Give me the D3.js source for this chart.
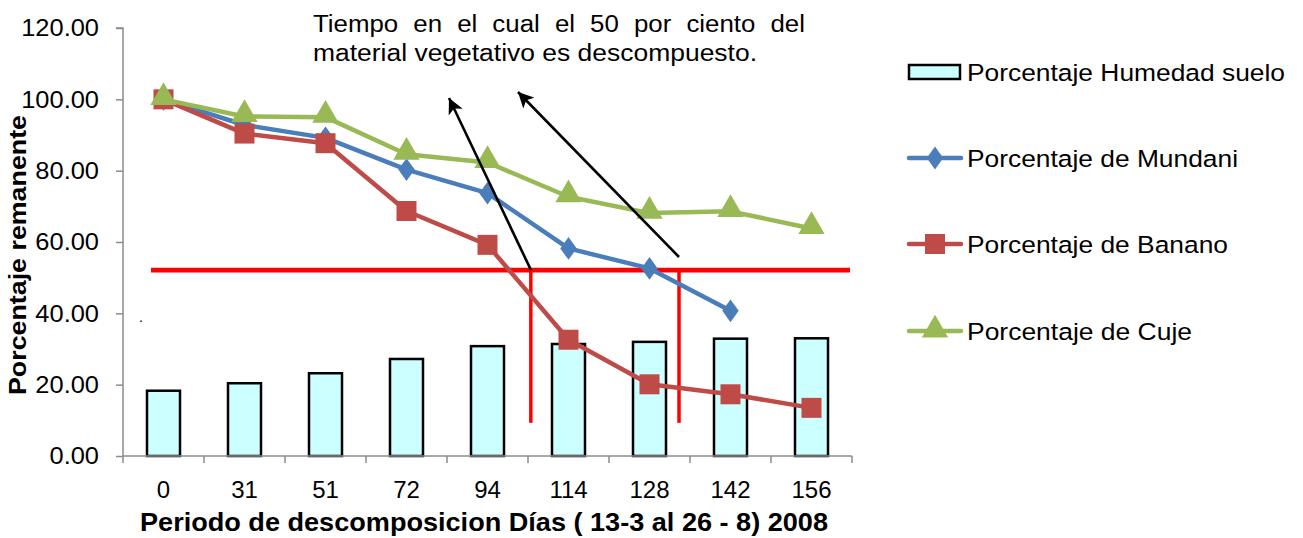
<!DOCTYPE html>
<html>
<head>
<meta charset="utf-8">
<script src="https://cdn.jsdelivr.net/npm/d3@7"></script>
<style>
  html, body { margin: 0; padding: 0; background: #fff; }
  svg { display: block; font-family: Arial, "Liberation Sans", sans-serif; }
</style>
</head>
<body>
<svg id="chart" width="1303" height="538"></svg>
<script>
// Days of the decomposition period (categories on the x axis)
const dias = ["0", "31", "51", "72", "94", "114", "128", "142", "156"];

// Soil moisture (bars)
const humedadSuelo = [18.3, 20.4, 23.2, 27.2, 30.8, 31.4, 32.0, 32.9, 33.0];

// Remaining material (lines)
const mundani = [100, 92.8, 89.2, 80.3, 73.7, 58.2, 52.6, 40.7, null];
const banano  = [100, 90.4, 87.7, 68.7, 59.2, 32.6, 20.1, 17.3, 13.5];
const cuje    = [100, 95.2, 95.0, 84.6, 82.3, 72.7, 68.1, 68.6, 63.8];

const yTicks = [0, 20, 40, 60, 80, 100, 120];

// 50 % decomposition reference level and the days where it is crossed
const nivelReferencia = 52.1;
const cruces = [104.7, 133.1]; // day values between categories

const svg = d3.select("#chart");

const plot = { left: 123, right: 852, top: 28, bottom: 456 };

const x = d3.scaleBand().domain(dias).range([plot.left, plot.right]).paddingInner(0).paddingOuter(0);
const y = d3.scaleLinear().domain([0, 120]).range([plot.bottom, plot.top]);

// maps a day value between categories to a pixel position
const diasNum = dias.map(Number);
const xCenters = dias.map(d => x(d) + x.bandwidth() / 2);
const xDia = d3.scaleLinear().domain(diasNum).range(xCenters);

// widen glyphs slightly so labels keep their wide look
function ensanchar(sel, factor) {
  sel.each(function () {
    const n = this;
    const w = n.getComputedTextLength();
    d3.select(n).attr("textLength", w * factor).attr("lengthAdjust", "spacingAndGlyphs");
  });
}

// --- Y axis
const yAxis = d3.axisLeft(y).tickValues(yTicks).tickFormat(d3.format(".2f")).tickSize(7).tickPadding(17);
const gy = svg.append("g").attr("transform", `translate(${plot.left},0)`).call(yAxis);
gy.attr("font-family", null).attr("font-size", null);
gy.select(".domain").attr("stroke", "#8c8c8c").attr("stroke-width", 1.5).attr("d", `M-7,${plot.top}H0V${plot.bottom}`);
gy.selectAll(".tick line").attr("stroke", "#8c8c8c").attr("stroke-width", 1.5);
gy.selectAll(".tick text").attr("fill", "#000").style("font-size", "24px");
ensanchar(gy.selectAll(".tick text"), 1.06);

// --- Bars
svg.append("g").selectAll("rect").data(humedadSuelo).join("rect")
  .attr("x", (d, i) => xCenters[i] - 16.5)
  .attr("width", 33)
  .attr("y", d => y(d))
  .attr("height", d => y(0) - y(d))
  .attr("fill", "#CCFFFF")
  .attr("stroke", "#000")
  .attr("stroke-width", 2.5);

// --- X axis
const xAxis = d3.axisBottom(x).tickSize(0).tickPadding(25);
const gx = svg.append("g").attr("transform", `translate(0,${plot.bottom})`).call(xAxis);
gx.attr("font-family", null).attr("font-size", null);
gx.select(".domain").attr("stroke", "#8c8c8c").attr("stroke-width", 1.5).attr("d", `M${plot.left},0H${plot.right}`);
gx.selectAll(".tick text").attr("fill", "#000").style("font-size", "24px");
// boundary ticks between categories
gx.append("g").selectAll("line").data(d3.range(dias.length + 1)).join("line")
  .attr("x1", i => plot.left + i * x.bandwidth())
  .attr("x2", i => plot.left + i * x.bandwidth())
  .attr("y1", 0).attr("y2", 7)
  .attr("stroke", "#8c8c8c").attr("stroke-width", 1.5);

// --- Reference lines
svg.append("line")
  .attr("x1", 151).attr("x2", 850)
  .attr("y1", y(nivelReferencia)).attr("y2", y(nivelReferencia))
  .attr("stroke", "#FF0000").attr("stroke-width", 4.8);

svg.append("g").selectAll("line").data(cruces).join("line")
  .attr("x1", d => xDia(d)).attr("x2", d => xDia(d))
  .attr("y1", y(nivelReferencia)).attr("y2", y(9.3))
  .attr("stroke", "#FF0000").attr("stroke-width", 3.5);

// --- Series lines with markers
const series = [
  { nombre: "Porcentaje de Mundani", datos: mundani, color: "#4A7EBB", simbolo: d3.symbolDiamond, area: 150, ancho: 271 },
  { nombre: "Porcentaje de Banano",  datos: banano,  color: "#BE4B48", simbolo: d3.symbolSquare,  area: 400, ancho: 261 },
  { nombre: "Porcentaje de Cuje",    datos: cuje,    color: "#98B954", simbolo: d3.symbolTriangle, area: 300, ancho: 225 }
];

const linea = d3.line()
  .defined(d => d.v != null)
  .x(d => xCenters[d.i])
  .y(d => y(d.v));

series.forEach(s => {
  const pts = s.datos.map((v, i) => ({ v, i }));
  svg.append("path").datum(pts)
    .attr("d", linea)
    .attr("fill", "none")
    .attr("stroke", s.color)
    .attr("stroke-width", 4.5)
    .attr("stroke-linejoin", "round");
  svg.append("g").selectAll("path").data(pts.filter(p => p.v != null)).join("path")
    .attr("d", d3.symbol().type(s.simbolo).size(s.area))
    .attr("transform", p => {
      const dy = s.simbolo === d3.symbolTriangle ? -2 : 0;
      const sx = s.simbolo === d3.symbolDiamond ? "scale(1.25,1)" : "";
      return `translate(${xCenters[p.i]},${y(p.v) + dy}) ${sx}`;
    })
    .attr("fill", s.color);
});

// --- Annotation arrows
const defs = svg.append("defs");
defs.append("marker")
  .attr("id", "punta")
  .attr("viewBox", "0 0 10 10")
  .attr("refX", 10).attr("refY", 5)
  .attr("markerWidth", 6).attr("markerHeight", 6)
  .attr("markerUnits", "strokeWidth")
  .attr("orient", "auto")
  .append("path").attr("d", "M0,0L10,5L0,10L2.5,5Z").attr("fill", "#000");

const flechas = [
  { desde: [531, y(nivelReferencia)], hasta: [449, 98] },
  { desde: [679, 257], hasta: [518, 92] }
];
svg.append("g").selectAll("line").data(flechas).join("line")
  .attr("x1", d => d.desde[0]).attr("y1", d => d.desde[1])
  .attr("x2", d => d.hasta[0]).attr("y2", d => d.hasta[1])
  .attr("stroke", "#000").attr("stroke-width", 2.6)
  .attr("marker-end", "url(#punta)");

// --- Annotation text (justified first line)
const palabras1 = ["Tiempo", "en", "el", "cual", "el", "50", "por", "ciento", "del"];
const estiramiento = 1.1;
const nota = svg.append("g").style("font-size", "23.5px").attr("fill", "#000");
const tmp = nota.append("text");
const anchos = palabras1.map(w => { tmp.text(w); return tmp.node().getComputedTextLength() * estiramiento; });
tmp.remove();
const x0 = 313, x1 = 805;
const gap = (x1 - x0 - d3.sum(anchos)) / (palabras1.length - 1);
let cx = x0;
palabras1.forEach((w, i) => {
  nota.append("text").attr("x", cx).attr("y", 32).text(w)
    .attr("textLength", anchos[i]).attr("lengthAdjust", "spacingAndGlyphs");
  cx += anchos[i] + gap;
});
nota.append("text").attr("x", x0).attr("y", 61).text("material vegetativo es descompuesto.")
  .attr("textLength", 444).attr("lengthAdjust", "spacingAndGlyphs");

// stray dot
svg.append("text").attr("x", 139).attr("y", 322).style("font-size", "14px").text(".");

// --- Axis titles
svg.append("text")
  .attr("x", 140).attr("y", 531)
  .style("font-size", "25px").style("font-weight", "bold")
  .attr("textLength", 688).attr("lengthAdjust", "spacingAndGlyphs")
  .text("Periodo de descomposicion Días ( 13-3 al 26 - 8) 2008");

svg.append("text")
  .attr("transform", "translate(26,395) rotate(-90)")
  .style("font-size", "24.5px").style("font-weight", "bold")
  .attr("textLength", 280).attr("lengthAdjust", "spacingAndGlyphs")
  .text("Porcentaje remanente");

// --- Legend
const leg = svg.append("g");
const legY = [72, 158, 244, 331];
leg.append("rect").attr("x", 909).attr("y", 65).attr("width", 51).attr("height", 14)
  .attr("fill", "#CCFFFF").attr("stroke", "#000").attr("stroke-width", 2.5);
leg.append("text").attr("x", 967).attr("y", legY[0] + 9).style("font-size", "24.5px")
  .attr("textLength", 318).attr("lengthAdjust", "spacingAndGlyphs")
  .text("Porcentaje Humedad suelo");
series.forEach((s, k) => {
  const yy = legY[k + 1];
  leg.append("line").attr("x1", 909).attr("x2", 961).attr("y1", yy).attr("y2", yy)
    .attr("stroke", s.color).attr("stroke-width", 4.5).attr("stroke-linecap", "round");
  leg.append("path")
    .attr("d", d3.symbol().type(s.simbolo).size(s.area))
    .attr("transform", `translate(935,${yy + (s.simbolo === d3.symbolTriangle ? -1 : 0)}) ${s.simbolo === d3.symbolDiamond ? "scale(1.25,1)" : ""}`)
    .attr("fill", s.color);
  leg.append("text").attr("x", 967).attr("y", yy + 9).style("font-size", "24.5px")
    .attr("textLength", s.ancho).attr("lengthAdjust", "spacingAndGlyphs")
    .text(s.nombre);
});
</script>
</body>
</html>
